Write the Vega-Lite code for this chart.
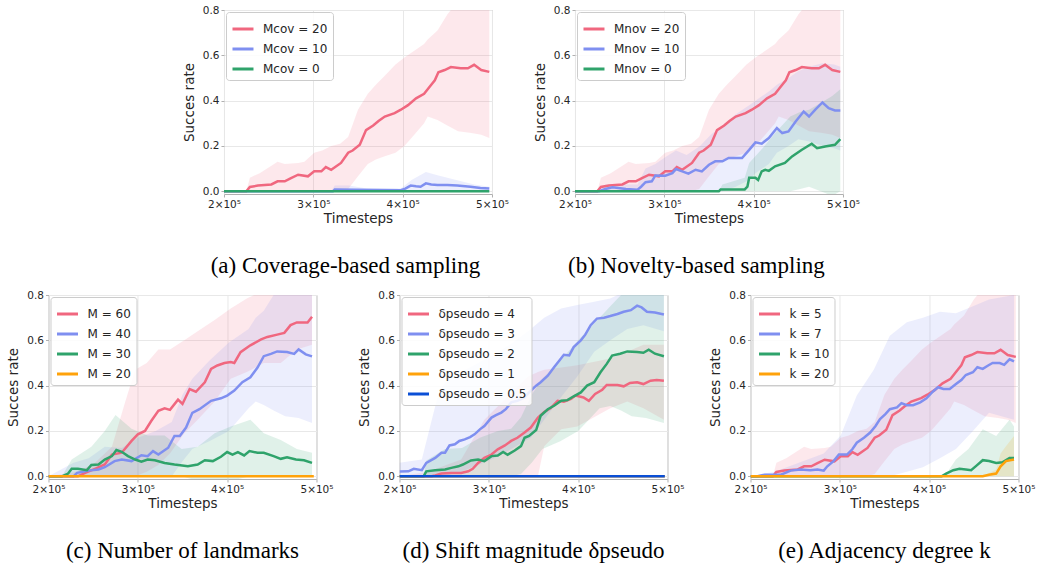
{
"$schema": "https://vega.github.io/schema/vega-lite/v6.json",
"background": "white",
"padding": {"left": 6, "top": 4, "right": 0, "bottom": 0},
"config": {
 "view": {"stroke": "#b0b0b0", "strokeWidth": 1},
 "axis": {"domain": false, "gridColor": "#e8e8e8", "tickColor": "#b0b0b0", "tickSize": 3, "labelPadding": 2, "labelFont": "DejaVu Sans", "labelFontSize": 10.5, "labelColor": "#262626", "titleFont": "DejaVu Sans", "titleFontSize": 13.5, "titleFontWeight": "normal", "titleColor": "#262626"},
 "axisX": {"titlePadding": 2, "labelFlush": false},
 "axisY": {"titlePadding": 6},
 "legend": {"orient": "top-left", "offset": 2, "labelFont": "DejaVu Sans", "labelFontSize": 12, "labelColor": "#262626", "symbolType": "stroke", "symbolStrokeWidth": 3, "symbolSize": 441, "strokeColor": "#cccccc", "cornerRadius": 3, "fillColor": "rgba(255,255,255,0.85)", "padding": 5, "rowPadding": 2, "labelOffset": 8},
 "title": {"font": "Liberation Serif", "fontSize": 23, "fontWeight": "normal", "color": "black", "orient": "bottom", "anchor": "middle", "offset": 30}
},
"datasets": {
 "aL": [
  {"s":"Mcov = 20","t":200,"y":0},{"s":"Mcov = 20","t":225,"y":0},{"s":"Mcov = 20","t":229,"y":0.019},{"s":"Mcov = 20","t":238,"y":0.025},{"s":"Mcov = 20","t":253,"y":0.03},{"s":"Mcov = 20","t":260,"y":0.044},{"s":"Mcov = 20","t":268,"y":0.044},{"s":"Mcov = 20","t":275,"y":0.058},{"s":"Mcov = 20","t":283,"y":0.073},{"s":"Mcov = 20","t":294,"y":0.066},{"s":"Mcov = 20","t":301,"y":0.088},{"s":"Mcov = 20","t":309,"y":0.088},{"s":"Mcov = 20","t":314,"y":0.107},{"s":"Mcov = 20","t":320,"y":0.095},{"s":"Mcov = 20","t":331,"y":0.125},{"s":"Mcov = 20","t":339,"y":0.17},{"s":"Mcov = 20","t":344,"y":0.18},{"s":"Mcov = 20","t":352,"y":0.205},{"s":"Mcov = 20","t":359,"y":0.27},{"s":"Mcov = 20","t":367,"y":0.29},{"s":"Mcov = 20","t":373,"y":0.31},{"s":"Mcov = 20","t":380,"y":0.33},{"s":"Mcov = 20","t":391,"y":0.345},{"s":"Mcov = 20","t":398,"y":0.36},{"s":"Mcov = 20","t":406,"y":0.38},{"s":"Mcov = 20","t":415,"y":0.41},{"s":"Mcov = 20","t":424,"y":0.43},{"s":"Mcov = 20","t":432,"y":0.47},{"s":"Mcov = 20","t":436,"y":0.49},{"s":"Mcov = 20","t":440,"y":0.525},{"s":"Mcov = 20","t":447,"y":0.535},{"s":"Mcov = 20","t":454,"y":0.548},{"s":"Mcov = 20","t":465,"y":0.543},{"s":"Mcov = 20","t":473,"y":0.543},{"s":"Mcov = 20","t":480,"y":0.558},{"s":"Mcov = 20","t":488,"y":0.535},{"s":"Mcov = 20","t":497,"y":0.527},
  {"s":"Mcov = 10","t":200,"y":0},{"s":"Mcov = 10","t":322,"y":0},{"s":"Mcov = 10","t":324,"y":0.008},{"s":"Mcov = 10","t":398,"y":0.005},{"s":"Mcov = 10","t":403,"y":0.012},{"s":"Mcov = 10","t":409,"y":0.025},{"s":"Mcov = 10","t":415,"y":0.022},{"s":"Mcov = 10","t":420,"y":0.02},{"s":"Mcov = 10","t":426,"y":0.035},{"s":"Mcov = 10","t":432,"y":0.03},{"s":"Mcov = 10","t":439,"y":0.028},{"s":"Mcov = 10","t":450,"y":0.028},{"s":"Mcov = 10","t":461,"y":0.025},{"s":"Mcov = 10","t":476,"y":0.02},{"s":"Mcov = 10","t":487,"y":0.015},{"s":"Mcov = 10","t":497,"y":0.012},
  {"s":"Mcov = 0","t":200,"y":0},{"s":"Mcov = 0","t":497,"y":0}
 ],
 "aB": [
  {"s":"Mcov = 20","t":200,"lo":0,"hi":0},{"s":"Mcov = 20","t":225,"lo":0,"hi":0},{"s":"Mcov = 20","t":229,"lo":0,"hi":0.06},{"s":"Mcov = 20","t":240,"lo":0,"hi":0.08},{"s":"Mcov = 20","t":260,"lo":0,"hi":0.13},{"s":"Mcov = 20","t":268,"lo":0,"hi":0.12},{"s":"Mcov = 20","t":283,"lo":0,"hi":0.125},{"s":"Mcov = 20","t":290,"lo":0,"hi":0.13},{"s":"Mcov = 20","t":301,"lo":0,"hi":0.17},{"s":"Mcov = 20","t":310,"lo":0,"hi":0.18},{"s":"Mcov = 20","t":320,"lo":0,"hi":0.2},{"s":"Mcov = 20","t":330,"lo":0,"hi":0.21},{"s":"Mcov = 20","t":339,"lo":0.01,"hi":0.24},{"s":"Mcov = 20","t":350,"lo":0.066,"hi":0.36},{"s":"Mcov = 20","t":361,"lo":0.12,"hi":0.43},{"s":"Mcov = 20","t":370,"lo":0.14,"hi":0.47},{"s":"Mcov = 20","t":380,"lo":0.155,"hi":0.51},{"s":"Mcov = 20","t":392,"lo":0.17,"hi":0.56},{"s":"Mcov = 20","t":402,"lo":0.2,"hi":0.59},{"s":"Mcov = 20","t":413,"lo":0.25,"hi":0.62},{"s":"Mcov = 20","t":424,"lo":0.3,"hi":0.65},{"s":"Mcov = 20","t":428,"lo":0.33,"hi":0.67},{"s":"Mcov = 20","t":439,"lo":0.315,"hi":0.71},{"s":"Mcov = 20","t":450,"lo":0.29,"hi":0.78},{"s":"Mcov = 20","t":462,"lo":0.265,"hi":0.84},{"s":"Mcov = 20","t":477,"lo":0.257,"hi":0.86},{"s":"Mcov = 20","t":488,"lo":0.25,"hi":0.85},{"s":"Mcov = 20","t":497,"lo":0.235,"hi":0.85},
  {"s":"Mcov = 10","t":200,"lo":0,"hi":0},{"s":"Mcov = 10","t":320,"lo":0,"hi":0},{"s":"Mcov = 10","t":324,"lo":0,"hi":0.025},{"s":"Mcov = 10","t":340,"lo":0,"hi":0.025},{"s":"Mcov = 10","t":360,"lo":0,"hi":0.012},{"s":"Mcov = 10","t":398,"lo":0,"hi":0.012},{"s":"Mcov = 10","t":410,"lo":0,"hi":0.05},{"s":"Mcov = 10","t":426,"lo":0,"hi":0.085},{"s":"Mcov = 10","t":440,"lo":0,"hi":0.07},{"s":"Mcov = 10","t":460,"lo":0,"hi":0.05},{"s":"Mcov = 10","t":480,"lo":0,"hi":0.03},{"s":"Mcov = 10","t":497,"lo":0,"hi":0.02}
 ],
 "bL": [
  {"s":"Mnov = 20","t":200,"y":0},{"s":"Mnov = 20","t":225,"y":0},{"s":"Mnov = 20","t":229,"y":0.019},{"s":"Mnov = 20","t":238,"y":0.025},{"s":"Mnov = 20","t":253,"y":0.03},{"s":"Mnov = 20","t":260,"y":0.044},{"s":"Mnov = 20","t":268,"y":0.044},{"s":"Mnov = 20","t":275,"y":0.058},{"s":"Mnov = 20","t":283,"y":0.073},{"s":"Mnov = 20","t":294,"y":0.066},{"s":"Mnov = 20","t":301,"y":0.088},{"s":"Mnov = 20","t":309,"y":0.088},{"s":"Mnov = 20","t":314,"y":0.107},{"s":"Mnov = 20","t":320,"y":0.095},{"s":"Mnov = 20","t":331,"y":0.125},{"s":"Mnov = 20","t":339,"y":0.17},{"s":"Mnov = 20","t":344,"y":0.18},{"s":"Mnov = 20","t":352,"y":0.205},{"s":"Mnov = 20","t":359,"y":0.27},{"s":"Mnov = 20","t":367,"y":0.29},{"s":"Mnov = 20","t":373,"y":0.31},{"s":"Mnov = 20","t":380,"y":0.33},{"s":"Mnov = 20","t":391,"y":0.345},{"s":"Mnov = 20","t":398,"y":0.36},{"s":"Mnov = 20","t":406,"y":0.38},{"s":"Mnov = 20","t":415,"y":0.41},{"s":"Mnov = 20","t":424,"y":0.43},{"s":"Mnov = 20","t":432,"y":0.47},{"s":"Mnov = 20","t":436,"y":0.49},{"s":"Mnov = 20","t":440,"y":0.525},{"s":"Mnov = 20","t":447,"y":0.535},{"s":"Mnov = 20","t":454,"y":0.548},{"s":"Mnov = 20","t":465,"y":0.543},{"s":"Mnov = 20","t":473,"y":0.543},{"s":"Mnov = 20","t":480,"y":0.558},{"s":"Mnov = 20","t":488,"y":0.535},{"s":"Mnov = 20","t":497,"y":0.527},
  {"s":"Mnov = 10","t":200,"y":0},{"s":"Mnov = 10","t":227,"y":0},{"s":"Mnov = 10","t":234,"y":0.01},{"s":"Mnov = 10","t":242,"y":0.018},{"s":"Mnov = 10","t":257,"y":0.01},{"s":"Mnov = 10","t":270,"y":0.007},{"s":"Mnov = 10","t":274,"y":0.02},{"s":"Mnov = 10","t":279,"y":0.04},{"s":"Mnov = 10","t":286,"y":0.044},{"s":"Mnov = 10","t":290,"y":0.07},{"s":"Mnov = 10","t":301,"y":0.069},{"s":"Mnov = 10","t":309,"y":0.08},{"s":"Mnov = 10","t":313,"y":0.098},{"s":"Mnov = 10","t":320,"y":0.088},{"s":"Mnov = 10","t":327,"y":0.078},{"s":"Mnov = 10","t":335,"y":0.095},{"s":"Mnov = 10","t":342,"y":0.088},{"s":"Mnov = 10","t":350,"y":0.117},{"s":"Mnov = 10","t":357,"y":0.132},{"s":"Mnov = 10","t":365,"y":0.132},{"s":"Mnov = 10","t":372,"y":0.147},{"s":"Mnov = 10","t":387,"y":0.147},{"s":"Mnov = 10","t":395,"y":0.183},{"s":"Mnov = 10","t":402,"y":0.216},{"s":"Mnov = 10","t":409,"y":0.21},{"s":"Mnov = 10","t":417,"y":0.235},{"s":"Mnov = 10","t":426,"y":0.279},{"s":"Mnov = 10","t":432,"y":0.257},{"s":"Mnov = 10","t":439,"y":0.264},{"s":"Mnov = 10","t":447,"y":0.308},{"s":"Mnov = 10","t":456,"y":0.352},{"s":"Mnov = 10","t":462,"y":0.33},{"s":"Mnov = 10","t":469,"y":0.36},{"s":"Mnov = 10","t":477,"y":0.392},{"s":"Mnov = 10","t":484,"y":0.367},{"s":"Mnov = 10","t":491,"y":0.357},{"s":"Mnov = 10","t":497,"y":0.357},
  {"s":"Mnov = 0","t":200,"y":0},{"s":"Mnov = 0","t":361,"y":0},{"s":"Mnov = 0","t":363,"y":0.008},{"s":"Mnov = 0","t":390,"y":0.008},{"s":"Mnov = 0","t":393,"y":0.02},{"s":"Mnov = 0","t":395,"y":0.06},{"s":"Mnov = 0","t":402,"y":0.06},{"s":"Mnov = 0","t":405,"y":0.05},{"s":"Mnov = 0","t":409,"y":0.088},{"s":"Mnov = 0","t":413,"y":0.095},{"s":"Mnov = 0","t":417,"y":0.09},{"s":"Mnov = 0","t":424,"y":0.11},{"s":"Mnov = 0","t":435,"y":0.125},{"s":"Mnov = 0","t":443,"y":0.154},{"s":"Mnov = 0","t":454,"y":0.183},{"s":"Mnov = 0","t":465,"y":0.21},{"s":"Mnov = 0","t":471,"y":0.19},{"s":"Mnov = 0","t":480,"y":0.198},{"s":"Mnov = 0","t":491,"y":0.205},{"s":"Mnov = 0","t":497,"y":0.23}
 ],
 "bB": [
  {"s":"Mnov = 20","t":200,"lo":0,"hi":0},{"s":"Mnov = 20","t":225,"lo":0,"hi":0},{"s":"Mnov = 20","t":229,"lo":0,"hi":0.06},{"s":"Mnov = 20","t":240,"lo":0,"hi":0.08},{"s":"Mnov = 20","t":260,"lo":0,"hi":0.13},{"s":"Mnov = 20","t":268,"lo":0,"hi":0.12},{"s":"Mnov = 20","t":283,"lo":0,"hi":0.125},{"s":"Mnov = 20","t":290,"lo":0,"hi":0.13},{"s":"Mnov = 20","t":301,"lo":0,"hi":0.17},{"s":"Mnov = 20","t":310,"lo":0,"hi":0.18},{"s":"Mnov = 20","t":320,"lo":0,"hi":0.2},{"s":"Mnov = 20","t":330,"lo":0,"hi":0.21},{"s":"Mnov = 20","t":339,"lo":0.01,"hi":0.24},{"s":"Mnov = 20","t":350,"lo":0.066,"hi":0.36},{"s":"Mnov = 20","t":361,"lo":0.12,"hi":0.43},{"s":"Mnov = 20","t":370,"lo":0.14,"hi":0.47},{"s":"Mnov = 20","t":380,"lo":0.155,"hi":0.51},{"s":"Mnov = 20","t":392,"lo":0.17,"hi":0.56},{"s":"Mnov = 20","t":402,"lo":0.2,"hi":0.59},{"s":"Mnov = 20","t":413,"lo":0.25,"hi":0.62},{"s":"Mnov = 20","t":424,"lo":0.3,"hi":0.65},{"s":"Mnov = 20","t":428,"lo":0.33,"hi":0.67},{"s":"Mnov = 20","t":439,"lo":0.315,"hi":0.71},{"s":"Mnov = 20","t":450,"lo":0.29,"hi":0.78},{"s":"Mnov = 20","t":462,"lo":0.265,"hi":0.84},{"s":"Mnov = 20","t":477,"lo":0.257,"hi":0.86},{"s":"Mnov = 20","t":488,"lo":0.25,"hi":0.85},{"s":"Mnov = 20","t":497,"lo":0.235,"hi":0.85},
  {"s":"Mnov = 10","t":200,"lo":0,"hi":0},{"s":"Mnov = 10","t":227,"lo":0,"hi":0},{"s":"Mnov = 10","t":234,"lo":0,"hi":0.03},{"s":"Mnov = 10","t":270,"lo":0,"hi":0.03},{"s":"Mnov = 10","t":279,"lo":0,"hi":0.1},{"s":"Mnov = 10","t":290,"lo":0,"hi":0.12},{"s":"Mnov = 10","t":301,"lo":0,"hi":0.15},{"s":"Mnov = 10","t":313,"lo":0,"hi":0.18},{"s":"Mnov = 10","t":325,"lo":0,"hi":0.16},{"s":"Mnov = 10","t":340,"lo":0,"hi":0.2},{"s":"Mnov = 10","t":352,"lo":0,"hi":0.25},{"s":"Mnov = 10","t":365,"lo":0,"hi":0.29},{"s":"Mnov = 10","t":380,"lo":0.02,"hi":0.34},{"s":"Mnov = 10","t":395,"lo":0.05,"hi":0.38},{"s":"Mnov = 10","t":402,"lo":0.08,"hi":0.4},{"s":"Mnov = 10","t":417,"lo":0.12,"hi":0.44},{"s":"Mnov = 10","t":426,"lo":0.17,"hi":0.47},{"s":"Mnov = 10","t":439,"lo":0.2,"hi":0.5},{"s":"Mnov = 10","t":450,"lo":0.23,"hi":0.53},{"s":"Mnov = 10","t":462,"lo":0.22,"hi":0.55},{"s":"Mnov = 10","t":477,"lo":0.2,"hi":0.565},{"s":"Mnov = 10","t":490,"lo":0.19,"hi":0.56},{"s":"Mnov = 10","t":497,"lo":0.18,"hi":0.55},
  {"s":"Mnov = 0","t":200,"lo":0,"hi":0},{"s":"Mnov = 0","t":361,"lo":0,"hi":0},{"s":"Mnov = 0","t":365,"lo":0,"hi":0.03},{"s":"Mnov = 0","t":390,"lo":0,"hi":0.06},{"s":"Mnov = 0","t":395,"lo":0,"hi":0.125},{"s":"Mnov = 0","t":410,"lo":0,"hi":0.19},{"s":"Mnov = 0","t":424,"lo":0,"hi":0.257},{"s":"Mnov = 0","t":441,"lo":0,"hi":0.33},{"s":"Mnov = 0","t":452,"lo":0.01,"hi":0.35},{"s":"Mnov = 0","t":462,"lo":0.02,"hi":0.36},{"s":"Mnov = 0","t":475,"lo":0,"hi":0.39},{"s":"Mnov = 0","t":488,"lo":-0.02,"hi":0.42},{"s":"Mnov = 0","t":497,"lo":0,"hi":0.45}
 ],
 "cL": [
  {"s":"M = 60","t":200,"y":0},{"s":"M = 60","t":233,"y":0},{"s":"M = 60","t":241,"y":0.015},{"s":"M = 60","t":252,"y":0.033},{"s":"M = 60","t":263,"y":0.052},{"s":"M = 60","t":271,"y":0.096},{"s":"M = 60","t":282,"y":0.104},{"s":"M = 60","t":293,"y":0.156},{"s":"M = 60","t":300,"y":0.185},{"s":"M = 60","t":308,"y":0.2},{"s":"M = 60","t":315,"y":0.244},{"s":"M = 60","t":323,"y":0.289},{"s":"M = 60","t":330,"y":0.3},{"s":"M = 60","t":336,"y":0.293},{"s":"M = 60","t":345,"y":0.338},{"s":"M = 60","t":350,"y":0.319},{"s":"M = 60","t":358,"y":0.385},{"s":"M = 60","t":365,"y":0.373},{"s":"M = 60","t":375,"y":0.415},{"s":"M = 60","t":382,"y":0.474},{"s":"M = 60","t":389,"y":0.489},{"s":"M = 60","t":397,"y":0.5},{"s":"M = 60","t":404,"y":0.504},{"s":"M = 60","t":408,"y":0.5},{"s":"M = 60","t":415,"y":0.548},{"s":"M = 60","t":426,"y":0.578},{"s":"M = 60","t":438,"y":0.604},{"s":"M = 60","t":445,"y":0.615},{"s":"M = 60","t":456,"y":0.625},{"s":"M = 60","t":464,"y":0.633},{"s":"M = 60","t":471,"y":0.667},{"s":"M = 60","t":478,"y":0.679},{"s":"M = 60","t":490,"y":0.679},{"s":"M = 60","t":495,"y":0.704},
  {"s":"M = 40","t":200,"y":0},{"s":"M = 40","t":228,"y":0},{"s":"M = 40","t":232,"y":0.015},{"s":"M = 40","t":245,"y":0.025},{"s":"M = 40","t":256,"y":0.03},{"s":"M = 40","t":263,"y":0.04},{"s":"M = 40","t":274,"y":0.067},{"s":"M = 40","t":282,"y":0.074},{"s":"M = 40","t":293,"y":0.067},{"s":"M = 40","t":304,"y":0.093},{"s":"M = 40","t":311,"y":0.089},{"s":"M = 40","t":317,"y":0.111},{"s":"M = 40","t":323,"y":0.096},{"s":"M = 40","t":334,"y":0.126},{"s":"M = 40","t":341,"y":0.178},{"s":"M = 40","t":347,"y":0.178},{"s":"M = 40","t":354,"y":0.215},{"s":"M = 40","t":361,"y":0.28},{"s":"M = 40","t":369,"y":0.296},{"s":"M = 40","t":382,"y":0.333},{"s":"M = 40","t":393,"y":0.344},{"s":"M = 40","t":400,"y":0.356},{"s":"M = 40","t":408,"y":0.378},{"s":"M = 40","t":417,"y":0.415},{"s":"M = 40","t":426,"y":0.437},{"s":"M = 40","t":434,"y":0.48},{"s":"M = 40","t":441,"y":0.53},{"s":"M = 40","t":449,"y":0.54},{"s":"M = 40","t":456,"y":0.551},{"s":"M = 40","t":467,"y":0.548},{"s":"M = 40","t":475,"y":0.54},{"s":"M = 40","t":480,"y":0.56},{"s":"M = 40","t":488,"y":0.538},{"s":"M = 40","t":495,"y":0.529},
  {"s":"M = 30","t":200,"y":0},{"s":"M = 30","t":215,"y":0},{"s":"M = 30","t":222,"y":0.012},{"s":"M = 30","t":226,"y":0.033},{"s":"M = 30","t":233,"y":0.033},{"s":"M = 30","t":243,"y":0.027},{"s":"M = 30","t":248,"y":0.05},{"s":"M = 30","t":256,"y":0.052},{"s":"M = 30","t":263,"y":0.074},{"s":"M = 30","t":271,"y":0.089},{"s":"M = 30","t":276,"y":0.116},{"s":"M = 30","t":282,"y":0.108},{"s":"M = 30","t":289,"y":0.089},{"s":"M = 30","t":297,"y":0.074},{"s":"M = 30","t":304,"y":0.064},{"s":"M = 30","t":311,"y":0.074},{"s":"M = 30","t":319,"y":0.071},{"s":"M = 30","t":330,"y":0.059},{"s":"M = 30","t":341,"y":0.052},{"s":"M = 30","t":356,"y":0.044},{"s":"M = 30","t":367,"y":0.052},{"s":"M = 30","t":375,"y":0.071},{"s":"M = 30","t":384,"y":0.067},{"s":"M = 30","t":393,"y":0.086},{"s":"M = 30","t":400,"y":0.107},{"s":"M = 30","t":406,"y":0.096},{"s":"M = 30","t":412,"y":0.107},{"s":"M = 30","t":419,"y":0.092},{"s":"M = 30","t":425,"y":0.111},{"s":"M = 30","t":434,"y":0.104},{"s":"M = 30","t":441,"y":0.104},{"s":"M = 30","t":452,"y":0.089},{"s":"M = 30","t":460,"y":0.077},{"s":"M = 30","t":467,"y":0.084},{"s":"M = 30","t":477,"y":0.074},{"s":"M = 30","t":486,"y":0.071},{"s":"M = 30","t":495,"y":0.059},
  {"s":"M = 20","t":200,"y":0},{"s":"M = 20","t":497,"y":0}
 ],
 "cB": [
  {"s":"M = 60","t":200,"lo":0,"hi":0},{"s":"M = 60","t":233,"lo":0,"hi":0.02},{"s":"M = 60","t":252,"lo":0,"hi":0.06},{"s":"M = 60","t":271,"lo":0,"hi":0.13},{"s":"M = 60","t":286,"lo":0,"hi":0.33},{"s":"M = 60","t":297,"lo":0,"hi":0.47},{"s":"M = 60","t":310,"lo":0.02,"hi":0.5},{"s":"M = 60","t":323,"lo":0.05,"hi":0.56},{"s":"M = 60","t":336,"lo":0.1,"hi":0.56},{"s":"M = 60","t":352,"lo":0.19,"hi":0.6},{"s":"M = 60","t":367,"lo":0.25,"hi":0.64},{"s":"M = 60","t":386,"lo":0.33,"hi":0.69},{"s":"M = 60","t":404,"lo":0.43,"hi":0.74},{"s":"M = 60","t":422,"lo":0.46,"hi":0.785},{"s":"M = 60","t":441,"lo":0.5,"hi":0.82},{"s":"M = 60","t":460,"lo":0.5,"hi":0.85},{"s":"M = 60","t":478,"lo":0.56,"hi":0.85},{"s":"M = 60","t":495,"lo":0.58,"hi":0.85},
  {"s":"M = 40","t":200,"lo":0,"hi":0},{"s":"M = 40","t":228,"lo":0,"hi":0.06},{"s":"M = 40","t":245,"lo":0,"hi":0.08},{"s":"M = 40","t":263,"lo":0,"hi":0.13},{"s":"M = 40","t":282,"lo":0,"hi":0.125},{"s":"M = 40","t":300,"lo":0,"hi":0.17},{"s":"M = 40","t":320,"lo":0,"hi":0.2},{"s":"M = 40","t":338,"lo":0,"hi":0.24},{"s":"M = 40","t":350,"lo":0.066,"hi":0.36},{"s":"M = 40","t":361,"lo":0.12,"hi":0.43},{"s":"M = 40","t":380,"lo":0.155,"hi":0.51},{"s":"M = 40","t":402,"lo":0.2,"hi":0.59},{"s":"M = 40","t":424,"lo":0.3,"hi":0.65},{"s":"M = 40","t":432,"lo":0.33,"hi":0.7},{"s":"M = 40","t":441,"lo":0.315,"hi":0.73},{"s":"M = 40","t":452,"lo":0.29,"hi":0.8},{"s":"M = 40","t":465,"lo":0.265,"hi":0.85},{"s":"M = 40","t":480,"lo":0.257,"hi":0.86},{"s":"M = 40","t":495,"lo":0.235,"hi":0.85},
  {"s":"M = 30","t":200,"lo":0,"hi":0},{"s":"M = 30","t":215,"lo":0,"hi":0},{"s":"M = 30","t":226,"lo":0,"hi":0.074},{"s":"M = 30","t":248,"lo":0,"hi":0.13},{"s":"M = 30","t":263,"lo":0,"hi":0.2},{"s":"M = 30","t":275,"lo":0,"hi":0.27},{"s":"M = 30","t":293,"lo":0,"hi":0.21},{"s":"M = 30","t":311,"lo":0,"hi":0.18},{"s":"M = 30","t":330,"lo":0,"hi":0.18},{"s":"M = 30","t":349,"lo":0,"hi":0.12},{"s":"M = 30","t":367,"lo":-0.02,"hi":0.13},{"s":"M = 30","t":386,"lo":-0.02,"hi":0.19},{"s":"M = 30","t":404,"lo":-0.02,"hi":0.22},{"s":"M = 30","t":426,"lo":0,"hi":0.25},{"s":"M = 30","t":441,"lo":0,"hi":0.19},{"s":"M = 30","t":460,"lo":0,"hi":0.16},{"s":"M = 30","t":478,"lo":0,"hi":0.12},{"s":"M = 30","t":495,"lo":0,"hi":0.104}
 ],
 "dL": [
  {"s":"δpseudo = 4","t":200,"y":0},{"s":"δpseudo = 4","t":236,"y":0},{"s":"δpseudo = 4","t":240,"y":0.004},{"s":"δpseudo = 4","t":247,"y":0.012},{"s":"δpseudo = 4","t":258,"y":0.015},{"s":"δpseudo = 4","t":269,"y":0.015},{"s":"δpseudo = 4","t":277,"y":0.022},{"s":"δpseudo = 4","t":282,"y":0.033},{"s":"δpseudo = 4","t":288,"y":0.059},{"s":"δpseudo = 4","t":295,"y":0.081},{"s":"δpseudo = 4","t":303,"y":0.096},{"s":"δpseudo = 4","t":310,"y":0.119},{"s":"δpseudo = 4","t":318,"y":0.136},{"s":"δpseudo = 4","t":325,"y":0.156},{"s":"δpseudo = 4","t":332,"y":0.17},{"s":"δpseudo = 4","t":340,"y":0.193},{"s":"δpseudo = 4","t":347,"y":0.215},{"s":"δpseudo = 4","t":355,"y":0.259},{"s":"δpseudo = 4","t":362,"y":0.284},{"s":"δpseudo = 4","t":369,"y":0.3},{"s":"δpseudo = 4","t":377,"y":0.333},{"s":"δpseudo = 4","t":384,"y":0.329},{"s":"δpseudo = 4","t":392,"y":0.341},{"s":"δpseudo = 4","t":397,"y":0.356},{"s":"δpseudo = 4","t":406,"y":0.348},{"s":"δpseudo = 4","t":412,"y":0.333},{"s":"δpseudo = 4","t":419,"y":0.363},{"s":"δpseudo = 4","t":427,"y":0.382},{"s":"δpseudo = 4","t":432,"y":0.403},{"s":"δpseudo = 4","t":444,"y":0.403},{"s":"δpseudo = 4","t":451,"y":0.397},{"s":"δpseudo = 4","t":458,"y":0.412},{"s":"δpseudo = 4","t":466,"y":0.415},{"s":"δpseudo = 4","t":473,"y":0.407},{"s":"δpseudo = 4","t":481,"y":0.422},{"s":"δpseudo = 4","t":488,"y":0.425},{"s":"δpseudo = 4","t":496,"y":0.422},
  {"s":"δpseudo = 3","t":200,"y":0.021},{"s":"δpseudo = 3","t":210,"y":0.022},{"s":"δpseudo = 3","t":216,"y":0.033},{"s":"δpseudo = 3","t":225,"y":0.027},{"s":"δpseudo = 3","t":230,"y":0.059},{"s":"δpseudo = 3","t":240,"y":0.081},{"s":"δpseudo = 3","t":247,"y":0.104},{"s":"δpseudo = 3","t":251,"y":0.104},{"s":"δpseudo = 3","t":256,"y":0.136},{"s":"δpseudo = 3","t":262,"y":0.141},{"s":"δpseudo = 3","t":267,"y":0.156},{"s":"δpseudo = 3","t":273,"y":0.163},{"s":"δpseudo = 3","t":279,"y":0.173},{"s":"δpseudo = 3","t":284,"y":0.185},{"s":"δpseudo = 3","t":290,"y":0.207},{"s":"δpseudo = 3","t":295,"y":0.222},{"s":"δpseudo = 3","t":303,"y":0.259},{"s":"δpseudo = 3","t":308,"y":0.27},{"s":"δpseudo = 3","t":314,"y":0.281},{"s":"δpseudo = 3","t":319,"y":0.296},{"s":"δpseudo = 3","t":325,"y":0.326},{"s":"δpseudo = 3","t":332,"y":0.333},{"s":"δpseudo = 3","t":340,"y":0.348},{"s":"δpseudo = 3","t":345,"y":0.37},{"s":"δpseudo = 3","t":353,"y":0.4},{"s":"δpseudo = 3","t":358,"y":0.415},{"s":"δpseudo = 3","t":366,"y":0.444},{"s":"δpseudo = 3","t":373,"y":0.481},{"s":"δpseudo = 3","t":379,"y":0.511},{"s":"δpseudo = 3","t":384,"y":0.536},{"s":"δpseudo = 3","t":390,"y":0.533},{"s":"δpseudo = 3","t":395,"y":0.57},{"s":"δpseudo = 3","t":403,"y":0.6},{"s":"δpseudo = 3","t":408,"y":0.625},{"s":"δpseudo = 3","t":414,"y":0.667},{"s":"δpseudo = 3","t":421,"y":0.696},{"s":"δpseudo = 3","t":429,"y":0.7},{"s":"δpseudo = 3","t":436,"y":0.707},{"s":"δpseudo = 3","t":444,"y":0.716},{"s":"δpseudo = 3","t":451,"y":0.726},{"s":"δpseudo = 3","t":459,"y":0.733},{"s":"δpseudo = 3","t":466,"y":0.753},{"s":"δpseudo = 3","t":471,"y":0.745},{"s":"δpseudo = 3","t":477,"y":0.726},{"s":"δpseudo = 3","t":486,"y":0.723},{"s":"δpseudo = 3","t":496,"y":0.714},
  {"s":"δpseudo = 2","t":200,"y":0},{"s":"δpseudo = 2","t":227,"y":0},{"s":"δpseudo = 2","t":230,"y":0.022},{"s":"δpseudo = 2","t":240,"y":0.027},{"s":"δpseudo = 2","t":251,"y":0.03},{"s":"δpseudo = 2","t":258,"y":0.037},{"s":"δpseudo = 2","t":266,"y":0.044},{"s":"δpseudo = 2","t":271,"y":0.052},{"s":"δpseudo = 2","t":280,"y":0.07},{"s":"δpseudo = 2","t":288,"y":0.074},{"s":"δpseudo = 2","t":295,"y":0.067},{"s":"δpseudo = 2","t":303,"y":0.089},{"s":"δpseudo = 2","t":310,"y":0.092},{"s":"δpseudo = 2","t":316,"y":0.107},{"s":"δpseudo = 2","t":321,"y":0.095},{"s":"δpseudo = 2","t":329,"y":0.114},{"s":"δpseudo = 2","t":336,"y":0.133},{"s":"δpseudo = 2","t":340,"y":0.17},{"s":"δpseudo = 2","t":345,"y":0.178},{"s":"δpseudo = 2","t":353,"y":0.204},{"s":"δpseudo = 2","t":358,"y":0.267},{"s":"δpseudo = 2","t":366,"y":0.296},{"s":"δpseudo = 2","t":373,"y":0.311},{"s":"δpseudo = 2","t":381,"y":0.333},{"s":"δpseudo = 2","t":388,"y":0.336},{"s":"δpseudo = 2","t":395,"y":0.353},{"s":"δpseudo = 2","t":403,"y":0.37},{"s":"δpseudo = 2","t":410,"y":0.4},{"s":"δpseudo = 2","t":418,"y":0.415},{"s":"δpseudo = 2","t":425,"y":0.459},{"s":"δpseudo = 2","t":432,"y":0.496},{"s":"δpseudo = 2","t":438,"y":0.533},{"s":"δpseudo = 2","t":447,"y":0.541},{"s":"δpseudo = 2","t":455,"y":0.551},{"s":"δpseudo = 2","t":466,"y":0.548},{"s":"δpseudo = 2","t":473,"y":0.545},{"s":"δpseudo = 2","t":479,"y":0.559},{"s":"δpseudo = 2","t":486,"y":0.541},{"s":"δpseudo = 2","t":496,"y":0.53},
  {"s":"δpseudo = 1","t":200,"y":0},{"s":"δpseudo = 1","t":497,"y":0},
  {"s":"δpseudo = 0.5","t":200,"y":0},{"s":"δpseudo = 0.5","t":497,"y":0}
 ],
 "dB": [
  {"s":"δpseudo = 4","t":200,"lo":0,"hi":0},{"s":"δpseudo = 4","t":232,"lo":0,"hi":0.02},{"s":"δpseudo = 4","t":269,"lo":0,"hi":0.074},{"s":"δpseudo = 4","t":295,"lo":0,"hi":0.25},{"s":"δpseudo = 4","t":318,"lo":0,"hi":0.34},{"s":"δpseudo = 4","t":344,"lo":0,"hi":0.44},{"s":"δpseudo = 4","t":355,"lo":0,"hi":0.46},{"s":"δpseudo = 4","t":362,"lo":0.133,"hi":0.47},{"s":"δpseudo = 4","t":381,"lo":0.207,"hi":0.48},{"s":"δpseudo = 4","t":399,"lo":0.22,"hi":0.49},{"s":"δpseudo = 4","t":436,"lo":0.3,"hi":0.52},{"s":"δpseudo = 4","t":455,"lo":0.33,"hi":0.55},{"s":"δpseudo = 4","t":473,"lo":0.3,"hi":0.58},{"s":"δpseudo = 4","t":496,"lo":0.25,"hi":0.58},
  {"s":"δpseudo = 3","t":200,"lo":0,"hi":0.06},{"s":"δpseudo = 3","t":225,"lo":0,"hi":0.074},{"s":"δpseudo = 3","t":243,"lo":0,"hi":0.356},{"s":"δpseudo = 3","t":251,"lo":0,"hi":0.415},{"s":"δpseudo = 3","t":269,"lo":0.02,"hi":0.46},{"s":"δpseudo = 3","t":288,"lo":0.05,"hi":0.5},{"s":"δpseudo = 3","t":306,"lo":0.08,"hi":0.54},{"s":"δpseudo = 3","t":325,"lo":0.12,"hi":0.585},{"s":"δpseudo = 3","t":347,"lo":0.17,"hi":0.65},{"s":"δpseudo = 3","t":362,"lo":0.25,"hi":0.7},{"s":"δpseudo = 3","t":381,"lo":0.35,"hi":0.74},{"s":"δpseudo = 3","t":399,"lo":0.44,"hi":0.756},{"s":"δpseudo = 3","t":418,"lo":0.55,"hi":0.77},{"s":"δpseudo = 3","t":436,"lo":0.6,"hi":0.785},{"s":"δpseudo = 3","t":455,"lo":0.65,"hi":0.82},{"s":"δpseudo = 3","t":473,"lo":0.667,"hi":0.84},{"s":"δpseudo = 3","t":496,"lo":0.64,"hi":0.84},
  {"s":"δpseudo = 2","t":200,"lo":0,"hi":0},{"s":"δpseudo = 2","t":227,"lo":0,"hi":0},{"s":"δpseudo = 2","t":230,"lo":0,"hi":0.07},{"s":"δpseudo = 2","t":251,"lo":0,"hi":0.12},{"s":"δpseudo = 2","t":270,"lo":0,"hi":0.125},{"s":"δpseudo = 2","t":290,"lo":0,"hi":0.17},{"s":"δpseudo = 2","t":310,"lo":0,"hi":0.2},{"s":"δpseudo = 2","t":325,"lo":0,"hi":0.21},{"s":"δpseudo = 2","t":336,"lo":0.01,"hi":0.26},{"s":"δpseudo = 2","t":348,"lo":0.06,"hi":0.36},{"s":"δpseudo = 2","t":360,"lo":0.12,"hi":0.43},{"s":"δpseudo = 2","t":380,"lo":0.155,"hi":0.51},{"s":"δpseudo = 2","t":400,"lo":0.2,"hi":0.6},{"s":"δpseudo = 2","t":412,"lo":0.25,"hi":0.65},{"s":"δpseudo = 2","t":424,"lo":0.3,"hi":0.7},{"s":"δpseudo = 2","t":436,"lo":0.31,"hi":0.75},{"s":"δpseudo = 2","t":448,"lo":0.29,"hi":0.8},{"s":"δpseudo = 2","t":460,"lo":0.265,"hi":0.85},{"s":"δpseudo = 2","t":476,"lo":0.257,"hi":0.86},{"s":"δpseudo = 2","t":496,"lo":0.235,"hi":0.85}
 ],
 "eL": [
  {"s":"k = 5","t":200,"y":0},{"s":"k = 5","t":225,"y":0},{"s":"k = 5","t":229,"y":0.019},{"s":"k = 5","t":238,"y":0.025},{"s":"k = 5","t":253,"y":0.03},{"s":"k = 5","t":260,"y":0.044},{"s":"k = 5","t":268,"y":0.044},{"s":"k = 5","t":275,"y":0.058},{"s":"k = 5","t":283,"y":0.073},{"s":"k = 5","t":294,"y":0.066},{"s":"k = 5","t":301,"y":0.088},{"s":"k = 5","t":309,"y":0.088},{"s":"k = 5","t":314,"y":0.107},{"s":"k = 5","t":320,"y":0.095},{"s":"k = 5","t":331,"y":0.125},{"s":"k = 5","t":339,"y":0.17},{"s":"k = 5","t":344,"y":0.18},{"s":"k = 5","t":352,"y":0.205},{"s":"k = 5","t":359,"y":0.27},{"s":"k = 5","t":367,"y":0.29},{"s":"k = 5","t":373,"y":0.31},{"s":"k = 5","t":380,"y":0.33},{"s":"k = 5","t":391,"y":0.345},{"s":"k = 5","t":398,"y":0.36},{"s":"k = 5","t":406,"y":0.38},{"s":"k = 5","t":415,"y":0.41},{"s":"k = 5","t":424,"y":0.43},{"s":"k = 5","t":432,"y":0.47},{"s":"k = 5","t":436,"y":0.49},{"s":"k = 5","t":440,"y":0.525},{"s":"k = 5","t":447,"y":0.535},{"s":"k = 5","t":454,"y":0.548},{"s":"k = 5","t":465,"y":0.543},{"s":"k = 5","t":473,"y":0.543},{"s":"k = 5","t":480,"y":0.558},{"s":"k = 5","t":488,"y":0.535},{"s":"k = 5","t":497,"y":0.527},
  {"s":"k = 7","t":200,"y":0},{"s":"k = 7","t":208,"y":0},{"s":"k = 7","t":216,"y":0.007},{"s":"k = 7","t":234,"y":0.007},{"s":"k = 7","t":245,"y":0.025},{"s":"k = 7","t":256,"y":0.03},{"s":"k = 7","t":267,"y":0.027},{"s":"k = 7","t":275,"y":0.03},{"s":"k = 7","t":282,"y":0.025},{"s":"k = 7","t":286,"y":0.044},{"s":"k = 7","t":293,"y":0.067},{"s":"k = 7","t":299,"y":0.096},{"s":"k = 7","t":308,"y":0.096},{"s":"k = 7","t":314,"y":0.119},{"s":"k = 7","t":319,"y":0.148},{"s":"k = 7","t":327,"y":0.17},{"s":"k = 7","t":334,"y":0.193},{"s":"k = 7","t":340,"y":0.222},{"s":"k = 7","t":345,"y":0.252},{"s":"k = 7","t":351,"y":0.274},{"s":"k = 7","t":356,"y":0.296},{"s":"k = 7","t":364,"y":0.304},{"s":"k = 7","t":369,"y":0.323},{"s":"k = 7","t":375,"y":0.314},{"s":"k = 7","t":382,"y":0.314},{"s":"k = 7","t":390,"y":0.326},{"s":"k = 7","t":397,"y":0.344},{"s":"k = 7","t":404,"y":0.373},{"s":"k = 7","t":410,"y":0.393},{"s":"k = 7","t":416,"y":0.385},{"s":"k = 7","t":423,"y":0.385},{"s":"k = 7","t":430,"y":0.407},{"s":"k = 7","t":436,"y":0.425},{"s":"k = 7","t":441,"y":0.447},{"s":"k = 7","t":449,"y":0.459},{"s":"k = 7","t":454,"y":0.481},{"s":"k = 7","t":460,"y":0.474},{"s":"k = 7","t":466,"y":0.489},{"s":"k = 7","t":471,"y":0.5},{"s":"k = 7","t":479,"y":0.5},{"s":"k = 7","t":484,"y":0.492},{"s":"k = 7","t":490,"y":0.516},{"s":"k = 7","t":495,"y":0.507},
  {"s":"k = 10","t":200,"y":0},{"s":"k = 10","t":414,"y":0},{"s":"k = 10","t":419,"y":0.012},{"s":"k = 10","t":427,"y":0.027},{"s":"k = 10","t":434,"y":0.033},{"s":"k = 10","t":441,"y":0.03},{"s":"k = 10","t":447,"y":0.027},{"s":"k = 10","t":453,"y":0.047},{"s":"k = 10","t":460,"y":0.071},{"s":"k = 10","t":467,"y":0.067},{"s":"k = 10","t":475,"y":0.059},{"s":"k = 10","t":482,"y":0.062},{"s":"k = 10","t":490,"y":0.081},{"s":"k = 10","t":495,"y":0.081},
  {"s":"k = 20","t":200,"y":0},{"s":"k = 20","t":460,"y":0},{"s":"k = 20","t":467,"y":0.007},{"s":"k = 20","t":475,"y":0.012},{"s":"k = 20","t":480,"y":0.044},{"s":"k = 20","t":486,"y":0.067},{"s":"k = 20","t":495,"y":0.074}
 ],
 "eB": [
  {"s":"k = 5","t":200,"lo":0,"hi":0},{"s":"k = 5","t":225,"lo":0,"hi":0},{"s":"k = 5","t":229,"lo":0,"hi":0.06},{"s":"k = 5","t":240,"lo":0,"hi":0.08},{"s":"k = 5","t":260,"lo":0,"hi":0.13},{"s":"k = 5","t":268,"lo":0,"hi":0.12},{"s":"k = 5","t":283,"lo":0,"hi":0.125},{"s":"k = 5","t":290,"lo":0,"hi":0.13},{"s":"k = 5","t":301,"lo":0,"hi":0.17},{"s":"k = 5","t":310,"lo":0,"hi":0.18},{"s":"k = 5","t":320,"lo":0,"hi":0.2},{"s":"k = 5","t":330,"lo":0,"hi":0.21},{"s":"k = 5","t":339,"lo":0.01,"hi":0.24},{"s":"k = 5","t":350,"lo":0.066,"hi":0.36},{"s":"k = 5","t":361,"lo":0.12,"hi":0.43},{"s":"k = 5","t":370,"lo":0.14,"hi":0.47},{"s":"k = 5","t":380,"lo":0.155,"hi":0.51},{"s":"k = 5","t":392,"lo":0.17,"hi":0.56},{"s":"k = 5","t":402,"lo":0.2,"hi":0.59},{"s":"k = 5","t":413,"lo":0.25,"hi":0.62},{"s":"k = 5","t":424,"lo":0.3,"hi":0.65},{"s":"k = 5","t":428,"lo":0.33,"hi":0.67},{"s":"k = 5","t":439,"lo":0.315,"hi":0.71},{"s":"k = 5","t":450,"lo":0.29,"hi":0.78},{"s":"k = 5","t":462,"lo":0.265,"hi":0.84},{"s":"k = 5","t":477,"lo":0.257,"hi":0.86},{"s":"k = 5","t":488,"lo":0.25,"hi":0.85},{"s":"k = 5","t":497,"lo":0.235,"hi":0.85},
  {"s":"k = 7","t":200,"lo":0,"hi":0},{"s":"k = 7","t":227,"lo":0,"hi":0.02},{"s":"k = 7","t":282,"lo":0,"hi":0.1},{"s":"k = 7","t":301,"lo":0,"hi":0.18},{"s":"k = 7","t":319,"lo":0,"hi":0.356},{"s":"k = 7","t":338,"lo":0,"hi":0.47},{"s":"k = 7","t":356,"lo":0,"hi":0.62},{"s":"k = 7","t":375,"lo":0.02,"hi":0.68},{"s":"k = 7","t":393,"lo":0.04,"hi":0.7},{"s":"k = 7","t":412,"lo":0.08,"hi":0.726},{"s":"k = 7","t":430,"lo":0.12,"hi":0.72},{"s":"k = 7","t":449,"lo":0.2,"hi":0.75},{"s":"k = 7","t":467,"lo":0.28,"hi":0.78},{"s":"k = 7","t":495,"lo":0.25,"hi":0.8},
  {"s":"k = 10","t":200,"lo":0,"hi":0},{"s":"k = 10","t":414,"lo":0,"hi":0},{"s":"k = 10","t":419,"lo":0,"hi":0.01},{"s":"k = 10","t":430,"lo":0,"hi":0.074},{"s":"k = 10","t":444,"lo":0,"hi":0.12},{"s":"k = 10","t":460,"lo":0,"hi":0.207},{"s":"k = 10","t":475,"lo":0,"hi":0.178},{"s":"k = 10","t":490,"lo":0,"hi":0.25},{"s":"k = 10","t":495,"lo":0,"hi":0.22},
  {"s":"k = 20","t":200,"lo":0,"hi":0},{"s":"k = 20","t":460,"lo":0,"hi":0},{"s":"k = 20","t":475,"lo":0,"hi":0.03},{"s":"k = 20","t":480,"lo":0,"hi":0.1},{"s":"k = 20","t":486,"lo":0,"hi":0.133},{"s":"k = 20","t":495,"lo":0,"hi":0.178}
 ]
},
"center": true,
"spacing": 10,
"resolve": {"scale": {"color": "independent"}, "legend": {"color": "independent"}},
"vconcat": [
 {"hconcat": [
  {"width": 268, "height": 184, "title": {"text": "(a) Coverage-based sampling", "frame": "bounds"},
   "encoding": {"x": {"field": "t", "type": "quantitative", "title": "Timesteps", "scale": {"domain": [200, 500], "nice": false}, "axis": {"values": [200, 300, 400, 500], "labelExpr": "datum.value/100 + '×10⁵'"}}},
   "layer": [
    {"data": {"name": "aB"}, "transform": [{"filter": "datum.s === 'Mcov = 20'"}], "mark": {"type": "area", "color": "#f0677f", "opacity": 0.15, "clip": true}, "encoding": {"y": {"field": "lo", "type": "quantitative", "title": "Succes rate", "scale": {"domain": [-0.012, 0.8], "nice": false, "zero": false}, "axis": {"values": [0, 0.2, 0.4, 0.6, 0.8], "format": ".1f"}}, "y2": {"field": "hi"}}},
    {"data": {"name": "aB"}, "transform": [{"filter": "datum.s === 'Mcov = 10'"}], "mark": {"type": "area", "color": "#7f8ff0", "opacity": 0.15, "clip": true}, "encoding": {"y": {"field": "lo", "type": "quantitative", "title": "Succes rate", "scale": {"domain": [-0.012, 0.8], "nice": false, "zero": false}, "axis": {"values": [0, 0.2, 0.4, 0.6, 0.8], "format": ".1f"}}, "y2": {"field": "hi"}}},
    {"data": {"name": "aL"}, "mark": {"type": "line", "strokeWidth": 2.5, "clip": true},
     "encoding": {"y": {"field": "y", "type": "quantitative", "title": "Succes rate", "scale": {"domain": [-0.012, 0.8], "nice": false, "zero": false}, "axis": {"values": [0, 0.2, 0.4, 0.6, 0.8], "format": ".1f"}},
      "color": {"field": "s", "type": "nominal", "scale": {"domain": ["Mcov = 20", "Mcov = 10", "Mcov = 0"], "range": ["#f0677f", "#7f8ff0", "#2fa36b"]}, "legend": {"title": null}}}}
   ]},
  {"width": 268, "height": 184, "title": {"text": "(b) Novelty-based sampling", "frame": "bounds"},
   "encoding": {"x": {"field": "t", "type": "quantitative", "title": "Timesteps", "scale": {"domain": [200, 500], "nice": false}, "axis": {"values": [200, 300, 400, 500], "labelExpr": "datum.value/100 + '×10⁵'"}}},
   "layer": [
    {"data": {"name": "bB"}, "transform": [{"filter": "datum.s === 'Mnov = 20'"}], "mark": {"type": "area", "color": "#f0677f", "opacity": 0.15, "clip": true}, "encoding": {"y": {"field": "lo", "type": "quantitative", "title": "Succes rate", "scale": {"domain": [-0.012, 0.8], "nice": false, "zero": false}, "axis": {"values": [0, 0.2, 0.4, 0.6, 0.8], "format": ".1f"}}, "y2": {"field": "hi"}}},
    {"data": {"name": "bB"}, "transform": [{"filter": "datum.s === 'Mnov = 10'"}], "mark": {"type": "area", "color": "#7f8ff0", "opacity": 0.15, "clip": true}, "encoding": {"y": {"field": "lo", "type": "quantitative", "title": "Succes rate", "scale": {"domain": [-0.012, 0.8], "nice": false, "zero": false}, "axis": {"values": [0, 0.2, 0.4, 0.6, 0.8], "format": ".1f"}}, "y2": {"field": "hi"}}},
    {"data": {"name": "bB"}, "transform": [{"filter": "datum.s === 'Mnov = 0'"}], "mark": {"type": "area", "color": "#2fa36b", "opacity": 0.15, "clip": true}, "encoding": {"y": {"field": "lo", "type": "quantitative", "title": "Succes rate", "scale": {"domain": [-0.012, 0.8], "nice": false, "zero": false}, "axis": {"values": [0, 0.2, 0.4, 0.6, 0.8], "format": ".1f"}}, "y2": {"field": "hi"}}},
    {"data": {"name": "bL"}, "mark": {"type": "line", "strokeWidth": 2.5, "clip": true},
     "encoding": {"y": {"field": "y", "type": "quantitative", "title": "Succes rate", "scale": {"domain": [-0.012, 0.8], "nice": false, "zero": false}, "axis": {"values": [0, 0.2, 0.4, 0.6, 0.8], "format": ".1f"}},
      "color": {"field": "s", "type": "nominal", "scale": {"domain": ["Mnov = 20", "Mnov = 10", "Mnov = 0"], "range": ["#f0677f", "#7f8ff0", "#2fa36b"]}, "legend": {"title": null}}}}
   ]}
 ], "spacing": 22, "resolve": {"scale": {"color": "independent"}, "legend": {"color": "independent"}}},
 {"hconcat": [
  {"width": 268, "height": 184, "title": {"text": "(c) Number of landmarks"},
   "encoding": {"x": {"field": "t", "type": "quantitative", "title": "Timesteps", "scale": {"domain": [200, 500], "nice": false}, "axis": {"values": [200, 300, 400, 500], "labelExpr": "datum.value/100 + '×10⁵'"}}},
   "layer": [
    {"data": {"name": "cB"}, "transform": [{"filter": "datum.s === 'M = 60'"}], "mark": {"type": "area", "color": "#f0677f", "opacity": 0.15, "clip": true}, "encoding": {"y": {"field": "lo", "type": "quantitative", "title": "Succes rate", "scale": {"domain": [-0.012, 0.8], "nice": false, "zero": false}, "axis": {"values": [0, 0.2, 0.4, 0.6, 0.8], "format": ".1f"}}, "y2": {"field": "hi"}}},
    {"data": {"name": "cB"}, "transform": [{"filter": "datum.s === 'M = 40'"}], "mark": {"type": "area", "color": "#7f8ff0", "opacity": 0.15, "clip": true}, "encoding": {"y": {"field": "lo", "type": "quantitative", "title": "Succes rate", "scale": {"domain": [-0.012, 0.8], "nice": false, "zero": false}, "axis": {"values": [0, 0.2, 0.4, 0.6, 0.8], "format": ".1f"}}, "y2": {"field": "hi"}}},
    {"data": {"name": "cB"}, "transform": [{"filter": "datum.s === 'M = 30'"}], "mark": {"type": "area", "color": "#2fa36b", "opacity": 0.15, "clip": true}, "encoding": {"y": {"field": "lo", "type": "quantitative", "title": "Succes rate", "scale": {"domain": [-0.012, 0.8], "nice": false, "zero": false}, "axis": {"values": [0, 0.2, 0.4, 0.6, 0.8], "format": ".1f"}}, "y2": {"field": "hi"}}},
    {"data": {"name": "cL"}, "mark": {"type": "line", "strokeWidth": 2.5, "clip": true},
     "encoding": {"y": {"field": "y", "type": "quantitative", "title": "Succes rate", "scale": {"domain": [-0.012, 0.8], "nice": false, "zero": false}, "axis": {"values": [0, 0.2, 0.4, 0.6, 0.8], "format": ".1f"}},
      "color": {"field": "s", "type": "nominal", "scale": {"domain": ["M = 60", "M = 40", "M = 30", "M = 20"], "range": ["#f0677f", "#7f8ff0", "#2fa36b", "#ffa20a"]}, "legend": {"title": null}}}}
   ]},
  {"width": 268, "height": 184, "title": {"text": "(d) Shift magnitude δpseudo"},
   "encoding": {"x": {"field": "t", "type": "quantitative", "title": "Timesteps", "scale": {"domain": [200, 500], "nice": false}, "axis": {"values": [200, 300, 400, 500], "labelExpr": "datum.value/100 + '×10⁵'"}}},
   "layer": [
    {"data": {"name": "dB"}, "transform": [{"filter": "datum.s === 'δpseudo = 4'"}], "mark": {"type": "area", "color": "#f0677f", "opacity": 0.15, "clip": true}, "encoding": {"y": {"field": "lo", "type": "quantitative", "title": "Succes rate", "scale": {"domain": [-0.012, 0.8], "nice": false, "zero": false}, "axis": {"values": [0, 0.2, 0.4, 0.6, 0.8], "format": ".1f"}}, "y2": {"field": "hi"}}},
    {"data": {"name": "dB"}, "transform": [{"filter": "datum.s === 'δpseudo = 3'"}], "mark": {"type": "area", "color": "#7f8ff0", "opacity": 0.15, "clip": true}, "encoding": {"y": {"field": "lo", "type": "quantitative", "title": "Succes rate", "scale": {"domain": [-0.012, 0.8], "nice": false, "zero": false}, "axis": {"values": [0, 0.2, 0.4, 0.6, 0.8], "format": ".1f"}}, "y2": {"field": "hi"}}},
    {"data": {"name": "dB"}, "transform": [{"filter": "datum.s === 'δpseudo = 2'"}], "mark": {"type": "area", "color": "#2fa36b", "opacity": 0.15, "clip": true}, "encoding": {"y": {"field": "lo", "type": "quantitative", "title": "Succes rate", "scale": {"domain": [-0.012, 0.8], "nice": false, "zero": false}, "axis": {"values": [0, 0.2, 0.4, 0.6, 0.8], "format": ".1f"}}, "y2": {"field": "hi"}}},
    {"data": {"name": "dL"}, "mark": {"type": "line", "strokeWidth": 2.5, "clip": true},
     "encoding": {"y": {"field": "y", "type": "quantitative", "title": "Succes rate", "scale": {"domain": [-0.012, 0.8], "nice": false, "zero": false}, "axis": {"values": [0, 0.2, 0.4, 0.6, 0.8], "format": ".1f"}},
      "color": {"field": "s", "type": "nominal", "scale": {"domain": ["δpseudo = 4", "δpseudo = 3", "δpseudo = 2", "δpseudo = 1", "δpseudo = 0.5"], "range": ["#f0677f", "#7f8ff0", "#2fa36b", "#ffa20a", "#0a4fd6"]}, "legend": {"title": null}}}}
   ]},
  {"width": 268, "height": 184, "title": {"text": "(e) Adjacency degree k"},
   "encoding": {"x": {"field": "t", "type": "quantitative", "title": "Timesteps", "scale": {"domain": [200, 500], "nice": false}, "axis": {"values": [200, 300, 400, 500], "labelExpr": "datum.value/100 + '×10⁵'"}}},
   "layer": [
    {"data": {"name": "eB"}, "transform": [{"filter": "datum.s === 'k = 5'"}], "mark": {"type": "area", "color": "#f0677f", "opacity": 0.15, "clip": true}, "encoding": {"y": {"field": "lo", "type": "quantitative", "title": "Succes rate", "scale": {"domain": [-0.012, 0.8], "nice": false, "zero": false}, "axis": {"values": [0, 0.2, 0.4, 0.6, 0.8], "format": ".1f"}}, "y2": {"field": "hi"}}},
    {"data": {"name": "eB"}, "transform": [{"filter": "datum.s === 'k = 7'"}], "mark": {"type": "area", "color": "#7f8ff0", "opacity": 0.15, "clip": true}, "encoding": {"y": {"field": "lo", "type": "quantitative", "title": "Succes rate", "scale": {"domain": [-0.012, 0.8], "nice": false, "zero": false}, "axis": {"values": [0, 0.2, 0.4, 0.6, 0.8], "format": ".1f"}}, "y2": {"field": "hi"}}},
    {"data": {"name": "eB"}, "transform": [{"filter": "datum.s === 'k = 10'"}], "mark": {"type": "area", "color": "#2fa36b", "opacity": 0.15, "clip": true}, "encoding": {"y": {"field": "lo", "type": "quantitative", "title": "Succes rate", "scale": {"domain": [-0.012, 0.8], "nice": false, "zero": false}, "axis": {"values": [0, 0.2, 0.4, 0.6, 0.8], "format": ".1f"}}, "y2": {"field": "hi"}}},
    {"data": {"name": "eB"}, "transform": [{"filter": "datum.s === 'k = 20'"}], "mark": {"type": "area", "color": "#ffa20a", "opacity": 0.15, "clip": true}, "encoding": {"y": {"field": "lo", "type": "quantitative", "title": "Succes rate", "scale": {"domain": [-0.012, 0.8], "nice": false, "zero": false}, "axis": {"values": [0, 0.2, 0.4, 0.6, 0.8], "format": ".1f"}}, "y2": {"field": "hi"}}},
    {"data": {"name": "eL"}, "mark": {"type": "line", "strokeWidth": 2.5, "clip": true},
     "encoding": {"y": {"field": "y", "type": "quantitative", "title": "Succes rate", "scale": {"domain": [-0.012, 0.8], "nice": false, "zero": false}, "axis": {"values": [0, 0.2, 0.4, 0.6, 0.8], "format": ".1f"}},
      "color": {"field": "s", "type": "nominal", "scale": {"domain": ["k = 5", "k = 7", "k = 10", "k = 20"], "range": ["#f0677f", "#7f8ff0", "#2fa36b", "#ffa20a"]}, "legend": {"title": null}}}}
   ]}
 ], "spacing": 22, "resolve": {"scale": {"color": "independent"}, "legend": {"color": "independent"}}}
]
}
